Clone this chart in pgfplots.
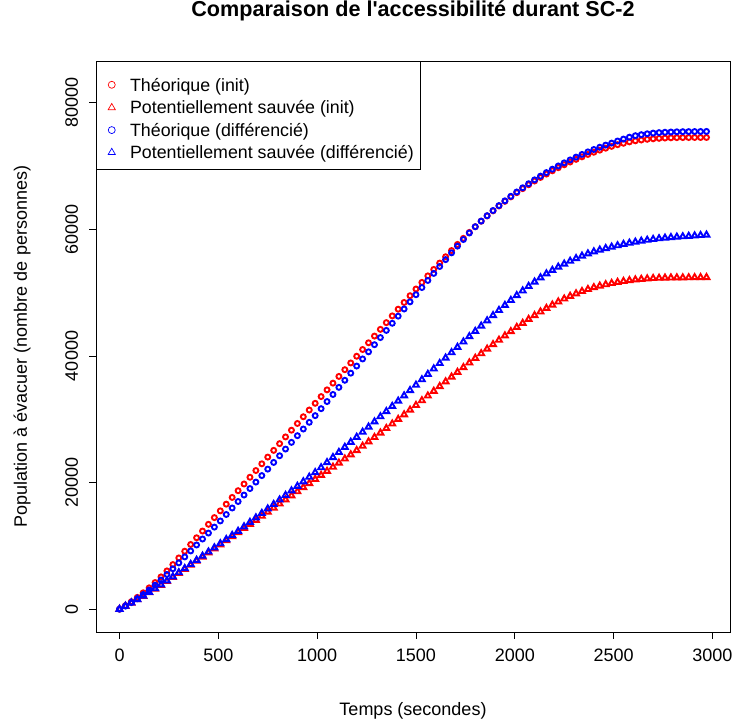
\documentclass[border=0pt]{standalone}
\usepackage{pgfplots}
\pgfplotsset{compat=1.18}
\usepackage{fontspec}
\setmainfont{Liberation Sans}
\begin{document}
\begin{tikzpicture}[x=1pt,y=1pt]
\useasboundingbox (0,0) rectangle (733,722);
\begin{axis}[
  at={(96pt,90pt)}, anchor=south west,
  scale only axis, width=634pt, height=571pt,
  xmin=-119, xmax=3089, ymin=-3600, ymax=86600,
  xtick={0,500,1000,1500,2000,2500,3000},
  ytick={0,20000,40000,60000,80000},
  xtick pos=bottom, ytick pos=left,
  tick align=outside, major tick length=7pt,
  axis line style={line width=0.8pt},
  every tick/.style={black, line width=0.8pt},
  /pgf/number format/assume math mode=true,
  /pgf/number format/1000 sep={},
  scaled y ticks=false, scaled x ticks=false,
  ticklabel style={font=\fontsize{18}{18}\selectfont},
  xticklabel style={anchor=north, inner sep=0pt, yshift=-10pt},
  yticklabel style={xshift=-10.7pt, rotate=90, anchor=south, inner sep=0pt},
  title={Comparaison de l\textquotesingle accessibilité durant SC-2},
  title style={at={(axis description cs:0.5,1.0771)}, anchor=center, font=\bfseries\fontsize{21.6}{24}\selectfont},
  xlabel={Temps (secondes)},
  xlabel style={at={(axis description cs:0.5,-0.1384)}, anchor=center, font=\fontsize{18}{20}\selectfont},
  ylabel={Population à évacuer (nombre de personnes)},
  ylabel style={at={(axis description cs:-0.1167,0.5)}, anchor=center, rotate=0, font=\fontsize{18}{20}\selectfont},
  legend cell align=left,
  legend style={at={(axis description cs:0,1)}, anchor=north west, draw=black, line width=0.8pt, fill=white,
    font=\fontsize{17.8}{22}\selectfont, inner xsep=6pt, inner ysep=4.2pt, row sep=0pt,
    nodes={text height=13pt, text depth=4pt, inner ysep=2.7pt, inner xsep=1pt}},
  legend image code/.code={\path (-9pt,0pt) (17pt,0pt); \draw[#1] plot coordinates {(0pt,0pt)};},
]
\addplot[only marks, color=red, mark=o, mark size=2.5pt, line width=1.9pt,
  legend image post style={mark size=3.5pt, line width=0.7pt, yshift=-3pt}] coordinates {
(0,0)(30,567)(60,1188)(90,1863)(120,2592)(150,3375)(180,4212)(210,5103)(240,6048)(270,7047)(300,8100)(330,9162)(360,10224)(390,11286)(420,12348)(450,13410)(480,14472)(510,15534)(540,16596)(570,17658)(600,18720)(630,19782)(660,20844)(690,21906)(720,22968)(750,24030)(780,25092)(810,26154)(840,27216)(870,28278)(900,29340)(930,30402)(960,31464)(990,32526)(1020,33588)(1050,34650)(1080,35712)(1110,36774)(1140,37836)(1170,38898)(1200,39960)(1230,41022)(1260,42084)(1290,43146)(1320,44208)(1350,45270)(1380,46332)(1410,47394)(1440,48456)(1470,49518)(1500,50580)(1530,51624)(1560,52655)(1590,53674)(1620,54680)(1650,55673)(1680,56654)(1710,57622)(1740,58578)(1770,59517)(1800,60422)(1830,61293)(1860,62130)(1890,62932)(1920,63700)(1950,64434)(1980,65134)(2010,65800)(2040,66439)(2070,67053)(2100,67642)(2130,68205)(2160,68743)(2190,69256)(2220,69744)(2250,70207)(2280,70646)(2310,71064)(2340,71460)(2370,71834)(2400,72187)(2430,72518)(2460,72828)(2490,73116)(2520,73380)(2550,73605)(2580,73820)(2610,73990)(2640,74120)(2670,74230)(2700,74310)(2730,74380)(2760,74430)(2790,74465)(2820,74490)(2850,74505)(2880,74512)(2910,74516)(2940,74519)(2970,74520)
};
\addlegendentry[text height=23pt]{Théorique (init)}
\addplot[only marks, color=red, mark=triangle, mark size=3.4pt, line width=1.9pt,
  legend image post style={mark size=4.2pt, line width=0.7pt, yshift=1.5pt}] coordinates {
(0,0)(30,489)(60,996)(90,1521)(120,2064)(150,2625)(180,3204)(210,3801)(240,4416)(270,5047)(300,5687)(330,6332)(360,6977)(390,7622)(420,8267)(450,8912)(480,9557)(510,10202)(540,10847)(570,11492)(600,12137)(630,12782)(660,13427)(690,14072)(720,14717)(750,15362)(780,16007)(810,16652)(840,17297)(870,17942)(900,18587)(930,19232)(960,19877)(990,20522)(1020,21167)(1050,21812)(1080,22457)(1110,23102)(1140,23755)(1170,24416)(1200,25087)(1230,25766)(1260,26455)(1290,27152)(1320,27858)(1350,28570)(1380,29288)(1410,30011)(1440,30740)(1470,31475)(1500,32216)(1530,32961)(1560,33706)(1590,34452)(1620,35199)(1650,35947)(1680,36696)(1710,37446)(1740,38191)(1770,38930)(1800,39663)(1830,40390)(1860,41111)(1890,41821)(1920,42519)(1950,43205)(1980,43879)(2010,44541)(2040,45183)(2070,45805)(2100,46405)(2130,46985)(2160,47543)(2190,48071)(2220,48565)(2250,49027)(2280,49455)(2310,49851)(2340,50211)(2370,50535)(2400,50823)(2430,51075)(2460,51291)(2490,51483)(2520,51655)(2550,51805)(2580,51935)(2610,52044)(2640,52135)(2670,52210)(2700,52269)(2730,52312)(2760,52339)(2790,52357)(2820,52368)(2850,52372)(2880,52385)(2910,52400)(2940,52410)(2970,52420)
};
\addlegendentry{Potentiellement sauvée (init)}
\addplot[only marks, color=blue, mark=o, mark size=2.5pt, line width=1.9pt,
  legend image post style={mark size=3.5pt, line width=0.7pt, yshift=1.5pt}] coordinates {
(0,0)(30,497)(60,1049)(90,1654)(120,2314)(150,3027)(180,3794)(210,4616)(240,5491)(270,6387)(300,7320)(330,8262)(360,9204)(390,10146)(420,11088)(450,12030)(480,12972)(510,13941)(540,14965)(570,15988)(600,17012)(630,18036)(660,19059)(690,20083)(720,21106)(750,22130)(780,23186)(810,24242)(840,25298)(870,26354)(900,27410)(930,28466)(960,29522)(990,30578)(1020,31678)(1050,32800)(1080,33922)(1110,35044)(1140,36166)(1170,37288)(1200,38410)(1230,39532)(1260,40656)(1290,41784)(1320,42912)(1350,44040)(1380,45168)(1410,46296)(1440,47424)(1470,48552)(1500,49680)(1530,50814)(1560,51935)(1590,53044)(1620,54140)(1650,55223)(1680,56294)(1710,57352)(1740,58398)(1770,59427)(1800,60422)(1830,61308)(1860,62160)(1890,62977)(1920,63760)(1950,64509)(1980,65224)(2010,65908)(2040,66571)(2070,67209)(2100,67822)(2130,68409)(2160,68971)(2190,69508)(2220,70020)(2250,70507)(2280,70972)(2310,71417)(2340,71839)(2370,72240)(2400,72619)(2430,72976)(2460,73313)(2490,73627)(2520,73956)(2550,74265)(2580,74564)(2610,74800)(2640,74960)(2670,75100)(2700,75210)(2730,75286)(2760,75341)(2790,75382)(2820,75412)(2850,75433)(2880,75445)(2910,75455)(2940,75463)(2970,75470)
};
\addlegendentry{Théorique (différencié)}
\addplot[only marks, color=blue, mark=triangle, mark size=3.4pt, line width=1.9pt,
  legend image post style={mark size=4.2pt, line width=0.7pt, yshift=1.5pt}] coordinates {
(0,0)(30,499)(60,1016)(90,1551)(120,2104)(150,2675)(180,3264)(210,3871)(240,4496)(270,5137)(300,5787)(330,6442)(360,7097)(390,7752)(420,8407)(450,9062)(480,9717)(510,10372)(540,11027)(570,11682)(600,12337)(630,13042)(660,13747)(690,14452)(720,15157)(750,15862)(780,16567)(810,17277)(840,17997)(870,18717)(900,19437)(930,20157)(960,20877)(990,21597)(1020,22374)(1050,23179)(1080,23984)(1110,24789)(1140,25602)(1170,26396)(1200,27187)(1230,27986)(1260,28795)(1290,29612)(1320,30428)(1350,31245)(1380,32068)(1410,32896)(1440,33730)(1470,34570)(1500,35416)(1530,36271)(1560,37126)(1590,37982)(1620,38839)(1650,39697)(1680,40546)(1710,41396)(1740,42241)(1770,43080)(1800,43913)(1830,44752)(1860,45586)(1890,46408)(1920,47219)(1950,48017)(1980,48804)(2010,49571)(2040,50303)(2070,51015)(2100,51705)(2130,52375)(2160,53000)(2190,53548)(2220,54062)(2250,54544)(2280,54992)(2310,55411)(2340,55801)(2370,56155)(2400,56473)(2430,56755)(2460,57001)(2490,57223)(2520,57445)(2550,57655)(2580,57845)(2610,58014)(2640,58165)(2670,58307)(2700,58436)(2730,58549)(2760,58646)(2790,58734)(2820,58803)(2850,58860)(2880,58926)(2910,58994)(2940,59057)(2970,59120)
};
\addlegendentry{Potentiellement sauvée (différencié)}
\end{axis}
\end{tikzpicture}
\end{document}
